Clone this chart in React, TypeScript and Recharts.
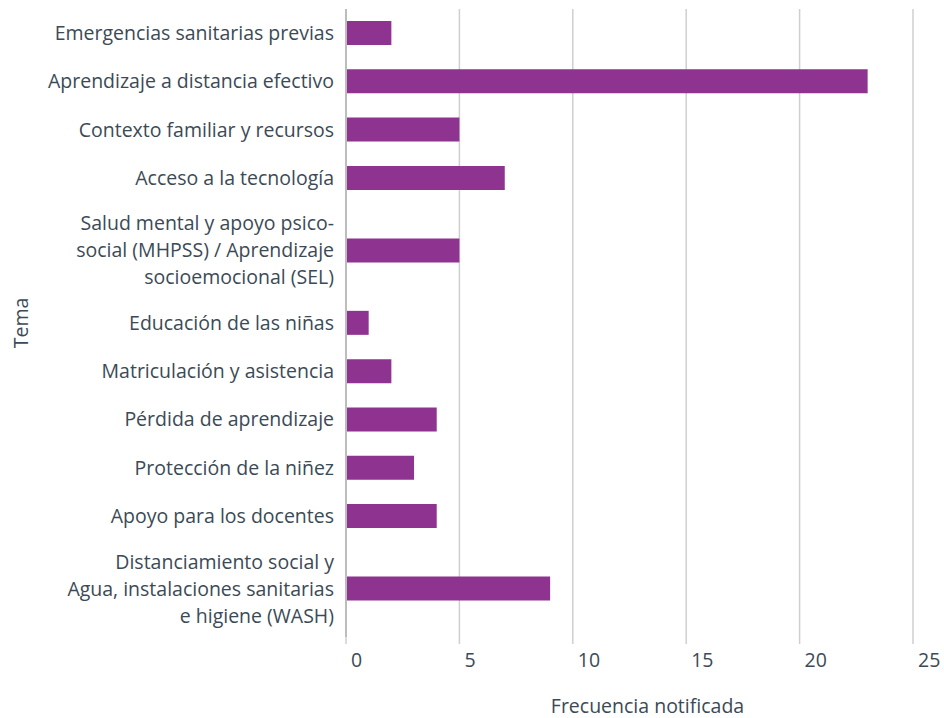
import { Bar, BarChart, CartesianGrid, Label, XAxis, YAxis } from "recharts";

const categories = [
  "Emergencias sanitarias previas",
  "Aprendizaje a distancia efectivo",
  "Contexto familiar y recursos",
  "Acceso a la tecnología",
  "Salud mental y apoyo psico-\nsocial (MHPSS) / Aprendizaje\nsocioemocional (SEL)",
  "Educación de las niñas",
  "Matriculación y asistencia",
  "Pérdida de aprendizaje",
  "Protección de la niñez",
  "Apoyo para los docentes",
  "Distanciamiento social y\nAgua, instalaciones sanitarias\ne higiene (WASH)",
];
const frecuencia = [2, 23, 5, 7, 5, 1, 2, 4, 3, 4, 9];
const xTicks = [0, 5, 10, 15, 20, 25];

const PURPLE = "#8E3390";
const TEXT = "#3b4a56";
const GRID = "#cfcfcf";
const FONT = "'Open Sans', sans-serif";
const FS = 19.5;
const LINE_H = 27;

// multi-line labels get a taller row, like the original
let cursor = 0;
const rows = categories.map((label, i) => {
  const span = label.split("\n").length > 1 ? 2 : 1;
  const pos = cursor + span / 2;
  cursor += span;
  return { label, pos, value: frecuencia[i] };
});
const total = cursor;

function YTick({ x, y, payload }: any) {
  const row = rows.find((r) => r.pos === payload.value);
  if (!row) return null;
  const lines = row.label.split("\n");
  const y0 = y - ((lines.length - 1) * LINE_H) / 2;
  return (
    <text x={x} y={y0} textAnchor="end" fill={TEXT} fontSize={FS} fontFamily={FONT}>
      {lines.map((l, i) => (
        <tspan key={i} x={x} dy={i === 0 ? "0.35em" : LINE_H}>
          {l}
        </tspan>
      ))}
    </text>
  );
}

function XTick({ x, y, payload }: any) {
  return (
    <text x={x + 5} y={y} dy="0.71em" textAnchor="start" fill={TEXT} fontSize={FS} fontFamily={FONT}>
      {payload.value}
    </text>
  );
}

export default function App() {
  return (
    <div style={{ width: 944, height: 718 }}>
      <style>{"body{margin:0}"}</style>
      <BarChart
        width={944}
        height={718}
        data={rows}
        layout="vertical"
        margin={{ top: 9, right: 31, left: 0, bottom: 0 }}
      >
        <CartesianGrid stroke={GRID} strokeWidth={1.5} horizontal={false} />
        <XAxis
          type="number"
          dataKey="value"
          domain={[0, 25]}
          ticks={xTicks}
          height={81}
          axisLine={false}
          tickLine={{ stroke: GRID, strokeWidth: 1.5 }}
          tickSize={7}
          tickMargin={9}
          tick={<XTick />}
        >
          <Label
            content={({ viewBox }: any) => (
              <text
                x={viewBox.x + viewBox.width / 2 + 18}
                y={viewBox.y + 76}
                textAnchor="middle"
                fill={TEXT}
                fontSize={FS}
                fontFamily={FONT}
              >
                Frecuencia notificada
              </text>
            )}
          />
        </XAxis>
        <YAxis
          type="number"
          dataKey="pos"
          domain={[0, total]}
          ticks={rows.map((r) => r.pos)}
          interval={0}
          width={346}
          axisLine={{ stroke: "#bdbdbd", strokeWidth: 2 }}
          tickLine={false}
          tickSize={0}
          tickMargin={12}
          tick={<YTick />}
        >
          <Label
            content={({ viewBox }: any) => {
              const cy = viewBox.y + viewBox.height / 2;
              return (
                <text
                  x={20}
                  y={cy}
                  transform={`rotate(-90, 20, ${cy})`}
                  textAnchor="middle"
                  dominantBaseline="central"
                  fill={TEXT}
                  fontSize={FS}
                  fontFamily={FONT}
                >
                  Tema
                </text>
              );
            }}
          />
        </YAxis>
        <Bar dataKey="value" fill={PURPLE} barSize={24} isAnimationActive={false} />
      </BarChart>
    </div>
  );
}
